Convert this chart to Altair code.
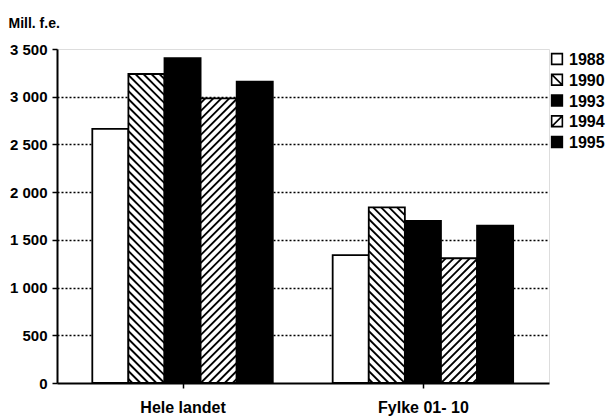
import altair as alt
import pandas as pd
import numpy as np

# ---- data ----
CATEGORIES = ["Hele landet", "Fylke 01- 10"]
YEARS = ["1988", "1990", "1993", "1994", "1995"]
V1988 = [2662, 1341]
V1990 = [3238, 1841]
V1993 = [3403, 1698]
V1994 = [2983, 1307]
V1995 = [3157, 1648]
Y_TICKS = [0, 500, 1000, 1500, 2000, 2500, 3000, 3500]
SERIES = [V1988, V1990, V1993, V1994, V1995]

# ---- style / layout ----
FILLS = ["white", "white", "black", "white", "black"]
HATCH = [None, "back", None, "fwd", None]
SQ = "M-1,-1H1V1H-1Z"
SHAPES = [SQ, SQ + " M-1,-1L1,1", SQ, SQ + " M-1,1L1,-1", SQ]
W, H = 492, 334
LEFT0, STEP, BAR_W, X_MAX = 0.978, 6.659, 1.0, 13.63
Y_MAX = 3500
FONT = "Liberation Sans"
LEG_SYM_X, LEG_TXT_X, LEG_Y_RANGE = 500, 512, [10, 93]

rows = []
for g, cat in enumerate(CATEGORIES):
    for s, yr in enumerate(YEARS):
        left = LEFT0 + g * STEP + s * BAR_W
        rows.append({"cat": cat, "year": yr, "value": SERIES[s][g],
                     "x0": left, "x1": left + BAR_W, "hatch": HATCH[s]})
df = pd.DataFrame(rows)
leg_df = pd.DataFrame({"year": YEARS})

# hatch segments, derived from the bars (45 degrees in screen space)
sx = W / X_MAX
sy = H / Y_MAX
sp = 8.0
segs = []
for r in rows:
    if r["hatch"] is None:
        continue
    X0, X1, V1 = r["x0"] * sx, r["x1"] * sx, r["value"] * sy
    if r["hatch"] == "back":  # V = c - X
        for c in np.arange(X0 + sp / 2, X1 + V1, sp):
            xa, xb = max(X0, c - V1), min(X1, c)
            if xb - xa > 0.3:
                segs.append({"xa": xa / sx, "ya": (c - xa) / sy,
                             "xb": xb / sx, "yb": (c - xb) / sy})
    else:  # V = X + c
        for c in np.arange(-X1 + sp / 2, V1 - X0, sp):
            xa, xb = max(X0, -c), min(X1, V1 - c)
            if xb - xa > 0.3:
                segs.append({"xa": xa / sx, "ya": (xa + c) / sy,
                             "xb": xb / sx, "yb": (xb + c) / sy})
seg_df = pd.DataFrame(segs)

centers = [LEFT0 + g * STEP + 2.5 * BAR_W for g in range(len(CATEGORIES))]
mid = sum(centers) / 2
label_expr = f"datum.value < {mid} ? '{CATEGORIES[0]}' : '{CATEGORIES[1]}'"

xscale = alt.Scale(domain=[0, X_MAX], nice=False, zero=False)
yscale = alt.Scale(domain=[0, Y_MAX], nice=False)
fill_scale = alt.Scale(domain=YEARS, range=FILLS)
shape_scale = alt.Scale(domain=YEARS, range=SHAPES)
leg_y = alt.Y("year:N", axis=None,
              scale=alt.Scale(type="point", domain=YEARS, range=LEG_Y_RANGE, padding=0))

x_axis = alt.Axis(values=centers, labelExpr=label_expr, title=None, grid=False,
                  domainColor="black", domainWidth=2, tickColor="black",
                  tickWidth=1.5, tickSize=5, labelFont=FONT, labelFontSize=16,
                  labelFontWeight="bold", labelColor="black", labelPadding=11)
y_axis = alt.Axis(values=Y_TICKS, labelExpr="replace(format(datum.value, ',d'), ',', ' ')",
                  title="Mill. f.e.", titleAngle=0, titleX=-49, titleY=-22,
                  titleAlign="left", titleBaseline="alphabetic", titleFont=FONT,
                  titleFontSize=14, titleFontWeight="bold", titleColor="black",
                  domainColor="black", domainWidth=2, tickColor="black",
                  tickWidth=1.5, tickSize=5, labelFont=FONT, labelFontSize=15,
                  labelFontWeight="bold", labelColor="black", labelPadding=5,
                  grid=True, gridColor="black", gridDash=[2, 2], gridWidth=1.3,
                  gridOpacity=alt.condition("datum.value >= 3500 || datum.value <= 0",
                                            alt.value(0), alt.value(1)))

bars = alt.Chart(df).mark_bar(stroke="black", strokeWidth=1.8).encode(
    x=alt.X("x0:Q", scale=xscale, axis=x_axis),
    x2="x1:Q",
    y=alt.Y("value:Q", scale=yscale, axis=y_axis),
    y2=alt.datum(0),
    fill=alt.Fill("year:N", scale=fill_scale, legend=None),
)

hatch = alt.Chart(seg_df).mark_rule(color="black", strokeWidth=1.8).encode(
    x="xa:Q", y="ya:Q", x2="xb:Q", y2="yb:Q",
)

leg_sym = alt.Chart(leg_df).mark_point(
    filled=True, stroke="black", strokeWidth=1.6, size=115, opacity=1).encode(
    x=alt.value(LEG_SYM_X),
    y=leg_y,
    fill=alt.Fill("year:N", scale=fill_scale, legend=None),
    shape=alt.Shape("year:N", scale=shape_scale, legend=None),
)
leg_txt = alt.Chart(leg_df).mark_text(
    align="left", baseline="middle", font=FONT, fontSize=16, fontWeight="bold",
    color="black", dy=1).encode(
    x=alt.value(LEG_TXT_X),
    y=leg_y,
    text="year:N",
)

main = alt.layer(bars, hatch)
legend_layer = alt.layer(leg_sym, leg_txt)

chart = alt.layer(main, legend_layer).resolve_scale(y="independent").properties(
    width=W, height=H,
    autosize=alt.AutoSizeParams(type="none"),
    padding={"left": 49, "top": 41, "right": 57, "bottom": 35},
).configure_view(stroke=None).configure(background="white")

chart.save("out.html", embed_options={"renderer": "svg", "actions": False})
